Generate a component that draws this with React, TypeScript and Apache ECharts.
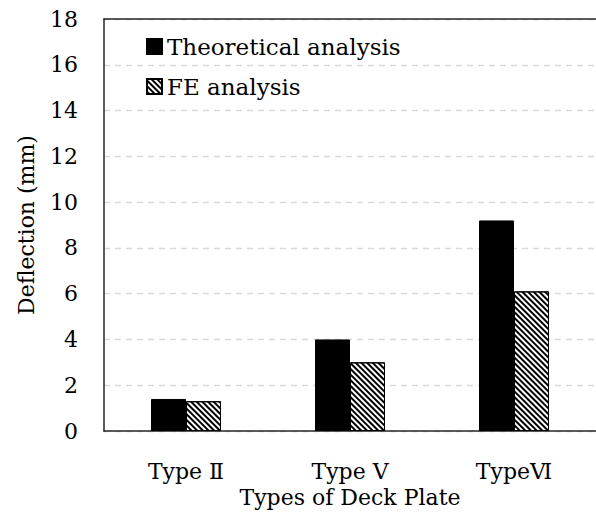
import React, { useEffect, useRef } from "react";
import * as echarts from "echarts";

const categories = ["Type Ⅱ", "Type Ⅴ", "TypeⅥ"];
const theoretical = [1.4, 4.0, 9.2];
const feAnalysis = [1.3, 3.0, 6.1];
const yTicks = { min: 0, max: 18, interval: 2 };

const FONT = "DejaVu Serif";
const FS = 22;

export default function App() {
  const ref = useRef<HTMLDivElement>(null);
  useEffect(() => {
    if (!ref.current) return;
    const chart = echarts.init(ref.current, undefined, { renderer: "svg" });
    chart.setOption({
      animation: false,
      backgroundColor: "#ffffff",
      textStyle: { fontFamily: FONT, color: "#000" },
      grid: { left: 104, top: 19, width: 495, height: 412 },
      legend: {
        orient: "vertical",
        left: 141,
        top: 30,
        icon: "rect",
        itemWidth: 15,
        itemHeight: 15,
        itemGap: 17,
        textStyle: { fontFamily: FONT, fontSize: 23, color: "#000" },
        data: ["Theoretical analysis", "FE analysis"],
      },
      xAxis: [
        {
          type: "category",
          data: categories,
          name: "Types of Deck Plate",
          nameLocation: "middle",
          nameGap: 52,
          nameTextStyle: { fontFamily: FONT, fontSize: FS, color: "#000" },
          axisLine: { lineStyle: { color: "#262626", width: 1.5 } },
          axisTick: { show: false },
          axisLabel: { fontFamily: FONT, fontSize: FS, color: "#000", margin: 29 },
        },
        {
          type: "category",
          position: "top",
          data: categories,
          axisLine: { show: true, lineStyle: { color: "#262626", width: 1.5 } },
          axisTick: { show: false },
          axisLabel: { show: false },
        },
      ],
      yAxis: {
        type: "value",
        min: yTicks.min,
        max: yTicks.max,
        interval: yTicks.interval,
        name: "Deflection (mm)",
        nameLocation: "middle",
        nameGap: 67,
        nameTextStyle: { fontFamily: FONT, fontSize: FS, color: "#000" },
        axisLine: { show: true, lineStyle: { color: "#262626", width: 1.5 } },
        axisTick: { show: false },
        axisLabel: { fontFamily: FONT, fontSize: FS, color: "#000", margin: 26 },
        splitLine: { lineStyle: { color: "#d9d9d9", type: [6, 5], width: 1.3 } },
      },
      series: [
        {
          name: "Theoretical analysis",
          type: "bar",
          data: theoretical,
          barWidth: 35,
          barGap: "0%",
          itemStyle: { color: "#000", borderColor: "#000", borderWidth: 1 },
        },
        {
          name: "FE analysis",
          type: "bar",
          data: feAnalysis,
          barWidth: 35,
          barGap: "0%",
          itemStyle: {
            color: "#fff",
            borderColor: "#000",
            borderWidth: 1,
            decal: {
              symbol: "rect",
              color: "#000",
              backgroundColor: "#fff",
              dashArrayX: [1, 0],
              dashArrayY: [2, 2],
              rotation: Math.PI / 4,
              symbolSize: 1,
            },
          },
        },
      ],
    });
    return () => chart.dispose();
  }, []);
  return (
    <div
      ref={ref}
      style={{ position: "fixed", left: 0, top: 0, width: 596, height: 520 }}
    />
  );
}
